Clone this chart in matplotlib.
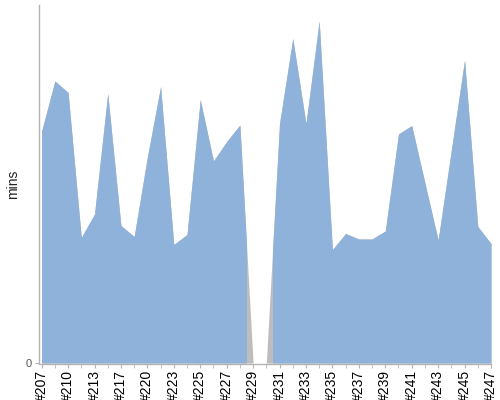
import numpy as np
import matplotlib
matplotlib.use('Agg')
import matplotlib.pyplot as plt
from matplotlib.patches import Rectangle

plt.rcParams['font.family'] = ['Liberation Sans', 'DejaVu Sans']

# build numbers on the x axis (some builds are missing)
builds = [207, 209, 210, 212, 213, 215, 217, 218, 220, 222, 223, 224, 225, 226,
          227, 228, 229, 230, 231, 232, 233, 234, 235, 236, 237, 238, 239, 240,
          241, 242, 243, 244, 245, 246, 247]
labels = ['#%d' % b for b in builds]

# build duration, minutes (229 and 230 have no data)
mins = [46.4, 56.4, 54.1, 25.1, 29.8, 53.9, 27.5, 25.3, 41.2, 55.3, 23.7, 25.7,
        52.7, 40.4, 44.3, 47.6, 0.0, 0.0, 47.9, 64.9, 47.9, 68.4, 22.7, 25.9,
        24.8, 24.8, 26.4, 45.8, 47.5, 36.0, 24.6, 42.6, 60.6, 27.3, 23.9]

blue = '#8fb2da'
grey = '#bdbdbd'
axis_grey = '#b4b4b4'

x = np.arange(len(builds))
y = np.array(mins)

fig = plt.figure(figsize=(5, 4), dpi=100)
ax = fig.add_axes([39 / 500, 1 - 363 / 400, (491 - 39) / 500, (363 - 5) / 400])

# grey area underneath, blue area on top cut off around the missing builds
ax.fill_between(x, 0, y, color=grey, linewidth=0)
gap = np.where(y == 0)[0]
lo, hi = gap[0] - 0.5, gap[-1] + 0.5
for x0, x1 in [(-1, lo), (hi, len(x))]:
    poly = ax.fill_between(x, 0, y, color=blue, linewidth=0)
    clip = Rectangle((x0, -10), x1 - x0, 200, transform=ax.transData)
    poly.set_clip_path(clip)

ax.set_xlim(-0.2, len(x) - 1)
ax.set_ylim(0, 71.6)

ax.set_xticks(x, minor=True)
ax.set_xticks(x[::2])
ax.set_xticklabels(labels[::2], fontsize=7.5, color='#333333')
ax.tick_params(axis='x', which='both', length=3, color=axis_grey, pad=1,
               labelrotation=90)
ax.set_yticks([0])
ax.set_yticklabels(['0'], fontsize=8, color='#555555')
ax.tick_params(axis='y', length=3, color=axis_grey, pad=2)

for side in ['top', 'right']:
    ax.spines[side].set_visible(False)
for side in ['left', 'bottom']:
    ax.spines[side].set_color(axis_grey)
    ax.spines[side].set_linewidth(1)
ax.spines['bottom'].set_position(('outward', 1))

ax.set_ylabel('mins', fontsize=10, color='#222222')
ax.yaxis.set_label_coords(-19 / 452, 0.5)

plt.savefig('out.png', dpi=100)
